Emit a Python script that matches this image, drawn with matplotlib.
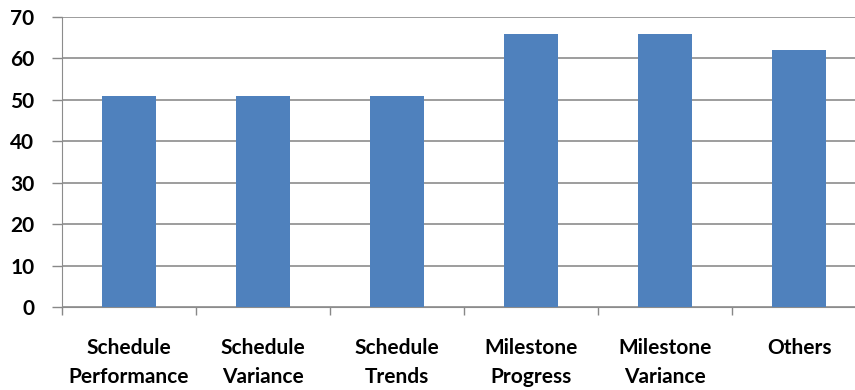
import matplotlib
matplotlib.use("Agg")
import matplotlib.pyplot as plt
import numpy as np

categories = ["Schedule\nPerformance", "Schedule\nVariance", "Schedule\nTrends",
              "Milestone\nProgress", "Milestone\nVariance", "Others"]
values = [51, 51, 51, 66, 66, 62]
yticks = [0, 10, 20, 30, 40, 50, 60, 70]

plt.rcParams["font.family"] = ["Lato", "DejaVu Sans"]

fig = plt.figure(figsize=(8.55, 3.9), dpi=100)
# plot area runs past the right edge, as in the cropped original
ax = fig.add_axes([62 / 855, 83 / 390, 804 / 855, 290 / 390])

x = np.arange(len(categories))
ax.bar(x, values, width=0.4, color="#4F81BD", zorder=3)

ax.set_xlim(-0.5, len(categories) - 0.5)
ax.set_ylim(0, 70)
ax.set_yticks(yticks)
ax.set_yticklabels([str(t) for t in yticks], fontsize=15, fontweight="bold")

ax.set_xticks(x)
ax.set_xticklabels(categories, fontsize=15, fontweight="bold", linespacing=1.6)
ax.set_xticks(np.arange(len(categories) + 1) - 0.5, minor=True)
ax.tick_params(axis="x", which="major", length=0, pad=22)
ax.tick_params(axis="x", which="minor", length=6, color="#888888", width=1)
ax.tick_params(axis="y", length=7, color="#888888", width=1, pad=13)

ax.yaxis.grid(True, color="#8c8c8c", linewidth=1.2, zorder=0)
for side in ["top", "right"]:
    ax.spines[side].set_visible(False)
ax.spines["left"].set_color("#8c8c8c")
ax.spines["bottom"].set_color("#8c8c8c")

fig.savefig("out.png", dpi=100)
